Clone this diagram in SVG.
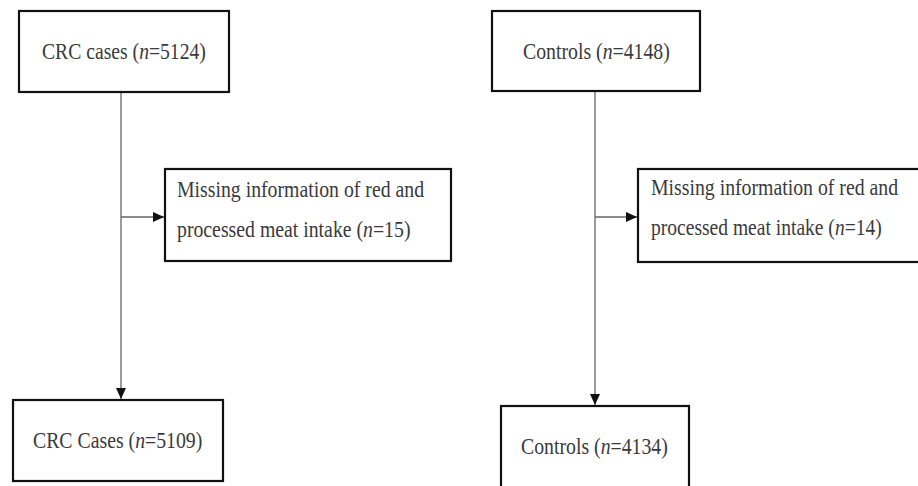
<svg xmlns="http://www.w3.org/2000/svg" width="918" height="486" viewBox="0 0 918 486">
<defs>
<marker id="arr" markerWidth="11" markerHeight="10" refX="11" refY="5" orient="auto" markerUnits="userSpaceOnUse">
<path d="M0,0 L11,5 L0,10 Z" fill="#111"/>
</marker>
<style>
.box{fill:#fff;stroke:#111;stroke-width:2.2}
.t{font-family:"Liberation Serif","Times New Roman",serif;font-size:23px;fill:#3a3a3a}
.c{stroke:#666;stroke-width:1.3;fill:none}
</style>
</defs>
<rect width="918" height="486" fill="#fff"/>
<g id="connectors">
<line class="c" x1="121" y1="92" x2="121" y2="399" marker-end="url(#arr)"/>
<line class="c" x1="121" y1="217" x2="164" y2="217" marker-end="url(#arr)"/>
<line class="c" x1="595" y1="91" x2="595" y2="405" marker-end="url(#arr)"/>
<line class="c" x1="595" y1="217" x2="637" y2="217" marker-end="url(#arr)"/>
</g>
<g id="crc-cases">
<rect class="box" x="19" y="11" width="210" height="81"/>
<text class="t" transform="translate(42,59) scale(0.855,1)">CRC cases (<tspan font-style="italic">n</tspan>=5124)</text>
</g>
<g id="controls">
<rect class="box" x="492" y="11" width="208" height="80"/>
<text class="t" transform="translate(523,59) scale(0.86,1)">Controls (<tspan font-style="italic">n</tspan>=4148)</text>
</g>
<g id="missing-cases">
<rect class="box" x="165" y="169" width="286" height="92"/>
<text class="t" transform="translate(177,197) scale(0.86,1)">Missing information of red and</text>
<text class="t" transform="translate(177,237) scale(0.86,1)">processed meat intake (<tspan font-style="italic">n</tspan>=15)</text>
</g>
<g id="missing-controls">
<rect class="box" x="638" y="169" width="282" height="93"/>
<text class="t" transform="translate(651,195) scale(0.86,1)">Missing information of red and</text>
<text class="t" transform="translate(651,235) scale(0.85,1)">processed meat intake (<tspan font-style="italic">n</tspan>=14)</text>
</g>
<g id="crc-cases-final">
<rect class="box" x="13" y="400" width="210" height="81"/>
<text class="t" transform="translate(33,448) scale(0.86,1)">CRC Cases (<tspan font-style="italic">n</tspan>=5109)</text>
</g>
<g id="controls-final">
<rect class="box" x="501" y="406" width="188" height="90"/>
<text class="t" transform="translate(521,454) scale(0.86,1)">Controls (<tspan font-style="italic">n</tspan>=4134)</text>
</g>
</svg>
